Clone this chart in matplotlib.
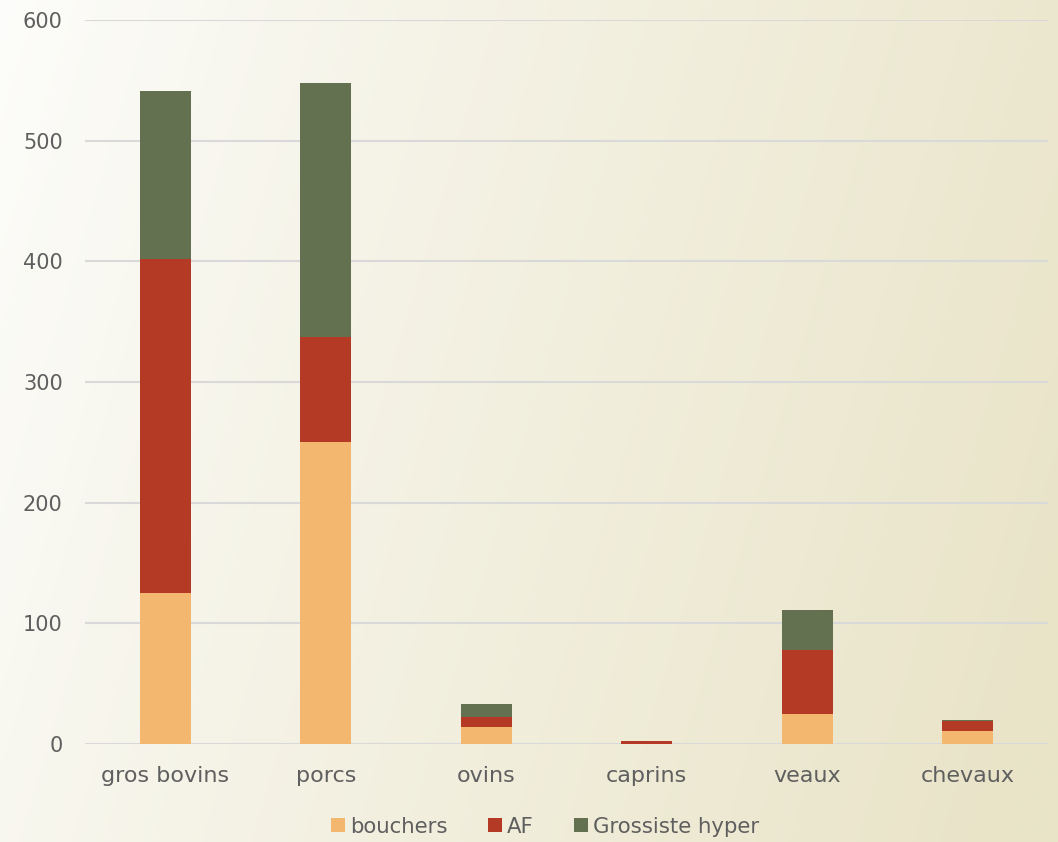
import matplotlib.pyplot as plt
import numpy as np

# Données
categories = ['gros bovins', 'porcs', 'ovins', 'caprins', 'veaux', 'chevaux']
bouchers = [125, 250, 14, 0, 25, 11]
af = [277, 87, 8, 2.5, 53, 8]
grossiste = [139, 211, 11, 0, 33, 1]

couleurs = {'bouchers': '#F3B76F', 'AF': '#B53A26', 'Grossiste hyper': '#637150'}
gris = '#5f5f5f'

plt.rcParams['font.family'] = ['DejaVu Sans']

fig = plt.figure(figsize=(10.58, 8.42), dpi=100)

# fond en dégradé
bg = fig.add_axes([0, 0, 1, 1], zorder=-10)
xx, yy = np.meshgrid(np.linspace(0, 1, 300), np.linspace(0, 1, 300))
t = np.clip(0.85 * xx + 0.2 * yy, 0, 1) ** 0.9
c0 = np.array([253, 253, 251]) / 255
c1 = np.array([233, 228, 200]) / 255
img = c0[None, None, :] * (1 - t[..., None]) + c1[None, None, :] * t[..., None]
bg.imshow(img, aspect='auto', extent=[0, 1, 0, 1], origin='upper')
bg.axis('off')

ax = fig.add_axes([0.0803, 0.1164, 0.9102, 0.8598])
ax.patch.set_alpha(0)

x = np.arange(len(categories))
w = 0.317
b1 = np.array(bouchers)
b2 = b1 + np.array(af)
ax.bar(x, bouchers, w, color=couleurs['bouchers'], label='bouchers', zorder=3)
ax.bar(x, af, w, bottom=b1, color=couleurs['AF'], label='AF', zorder=3)
ax.bar(x, grossiste, w, bottom=b2, color=couleurs['Grossiste hyper'],
       label='Grossiste hyper', zorder=3)

ax.set_xlim(-0.5, 5.5)
ax.set_ylim(0, 600)
ax.set_yticks(range(0, 601, 100))
ax.yaxis.grid(True, color='#D9D9D9', linewidth=1.5, zorder=0)
ax.set_axisbelow(True)
for s in ax.spines.values():
    s.set_visible(False)
ax.set_xticks(x)
ax.set_xticklabels(categories)
ax.tick_params(length=0, labelcolor=gris)
ax.tick_params(axis='y', pad=16, labelsize=15)
ax.tick_params(axis='x', pad=16, labelsize=16)

ax.legend(loc='upper center', bbox_to_anchor=(0.478, -0.074), ncol=3, frameon=False,
          fontsize=15.3, labelcolor=gris, handlelength=0.65, handleheight=0.65,
          handletextpad=0.25, columnspacing=1.9)

fig.savefig('out.png', dpi=100)
